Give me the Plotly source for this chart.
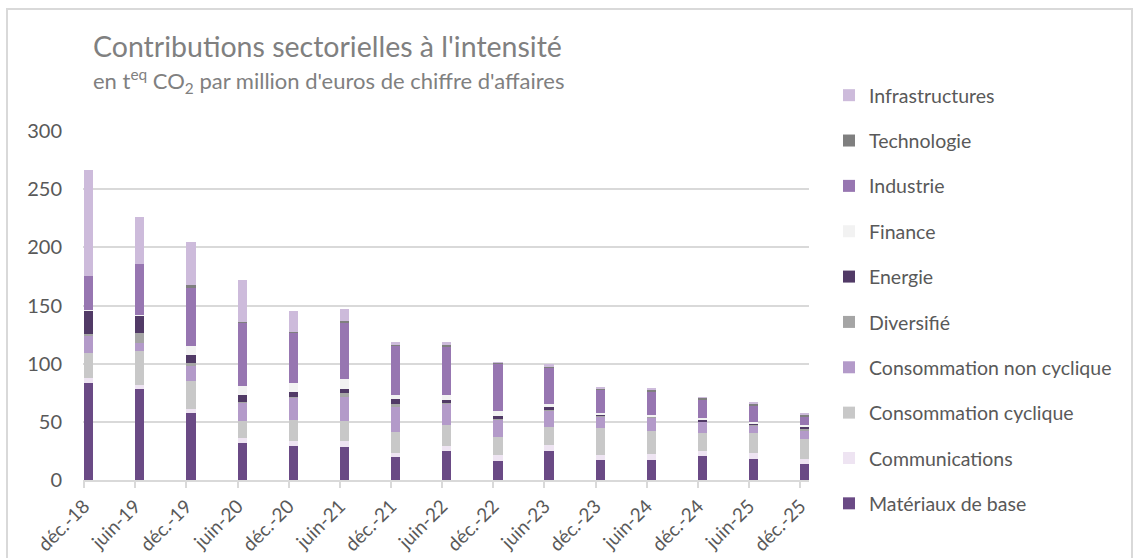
import plotly.graph_objects as go

categories = ["déc.-18", "juin-19", "déc.-19", "juin-20", "déc.-20", "juin-21", "déc.-21",
              "juin-22", "déc.-22", "juin-23", "déc.-23", "juin-24", "déc.-24", "juin-25", "déc.-25"]

materiaux = [83.1, 77.9, 57.9, 31.5, 29.2, 28.1, 19.5, 25.2, 16.0, 24.6, 17.2, 17.2, 20.6, 18.3, 13.8]
communications = [4.6, 4.0, 3.4, 4.6, 4.6, 5.2, 4.0, 4.0, 5.2, 5.7, 4.0, 5.2, 4.0, 5.2, 4.0]
conso_cyclique = [21.8, 28.7, 24.1, 14.3, 17.8, 17.8, 17.8, 17.8, 15.5, 15.5, 23.5, 20.1, 15.5, 16.6, 17.2]
conso_non_cyclique = [14.3, 6.9, 12.6, 16.0, 19.5, 20.1, 21.2, 18.9, 15.5, 13.8, 10.3, 11.5, 10.3, 6.9, 6.9]
diversifie = [1.7, 8.6, 2.9, 0.6, 0.6, 3.4, 2.9, 1.1, 0.2, 0.6, 0.6, 0.2, 0.3, 0.3, 2.3]
energie = [20.6, 14.9, 6.9, 5.7, 4.0, 3.4, 4.6, 1.7, 2.3, 3.4, 1.1, 0.3, 1.1, 1.1, 1.7]
finance = [0.3, 1.1, 7.4, 8.0, 8.0, 8.6, 2.9, 4.0, 4.6, 1.7, 1.1, 1.7, 1.7, 1.7, 1.1]
industrie = [28.7, 43.6, 50.4, 54.4, 43.0, 48.7, 42.4, 42.4, 40.7, 31.5, 20.1, 20.1, 16.0, 14.3, 8.0]
technologie = [0.0, 0.0, 1.7, 1.1, 0.6, 1.1, 0.6, 1.7, 0.6, 1.1, 0.6, 1.7, 1.1, 1.7, 1.1]
infrastructures = [91.1, 40.7, 37.2, 36.1, 17.8, 10.9, 2.9, 1.7, 0.3, 1.7, 0.6, 0.6, 0.6, 1.1, 1.7]

series = [
    ("Matériaux de base", materiaux, "#6A4A85"),
    ("Communications", communications, "#EEE4F2"),
    ("Consommation cyclique", conso_cyclique, "#C8C8C8"),
    ("Consommation non cyclique", conso_non_cyclique, "#B39AC9"),
    ("Diversifié", diversifie, "#A5A5A5"),
    ("Energie", energie, "#513A66"),
    ("Finance", finance, "#F2F2F2"),
    ("Industrie", industrie, "#9776B1"),
    ("Technologie", technologie, "#7F7F7F"),
    ("Infrastructures", infrastructures, "#CDBBDB"),
]

FONT = "Lato, 'Open Sans', sans-serif"
fig = go.Figure()
n = len(series)
for i, (name, vals, color) in enumerate(series):
    fig.add_trace(go.Bar(
        x=categories, y=vals, name=name, legendgroup=name, legendrank=n - i,
        marker=dict(color=color, line=dict(width=0)),
        width=0.18, offset=0,
    ))

W, H = 1133, 558
L, R, T, B = 83, 1133 - 809, 131, 558 - 480
pw, ph = W - L - R, H - T - B

def px(x):
    return (x - L) / pw

def py(y):
    return (H - B - y) / ph

fig.update_layout(
    width=W, height=H,
    margin=dict(l=L, r=R, t=T, b=B, autoexpand=False),
    barmode="stack",
    plot_bgcolor="white", paper_bgcolor="white",
    font=dict(family=FONT, color="#595959", size=19),
    showlegend=True,
    legend=dict(
        x=px(829), y=py(76), xanchor="left", yanchor="top",
        traceorder="grouped", tracegroupgap=17, maxheight=520,
        font=dict(size=19.5, color="#595959"),
        itemwidth=30, bgcolor="rgba(0,0,0,0)",
    ),
    xaxis=dict(
        type="category", range=[-0.02, 14.17], automargin=False,
        showgrid=False, showline=True, linecolor="#D9D9D9", linewidth=1.5,
        ticks="outside", ticklen=6, tickcolor="#D9D9D9", tickwidth=1.5,
        tickangle=-45, tickfont=dict(size=19, color="#595959"),
    ),
    yaxis=dict(
        range=[0, 300], tickvals=[0, 50, 100, 150, 200, 250, 300], automargin=False,
        showgrid=True, gridcolor="#D9D9D9", gridwidth=1.5,
        zeroline=False, showline=False, ticks="",
        ticklabelstandoff=20,
        tickfont=dict(size=20, color="#595959"),
    ),
    annotations=[
        dict(text="Contributions sectorielles à l'intensité", xref="paper", yref="paper",
             x=px(91), y=py(46), xanchor="left", yanchor="middle", showarrow=False,
             font=dict(size=28.5, color="#808080", family=FONT)),
        dict(text="en t<sup>eq</sup> CO<sub>2</sub> par million d'euros de chiffre d'affaires",
             xref="paper", yref="paper",
             x=px(91), y=py(81), xanchor="left", yanchor="middle", showarrow=False,
             font=dict(size=22, color="#808080", family=FONT)),
    ],
    shapes=[
        dict(type="rect", xref="paper", yref="paper",
             x0=px(7), x1=px(1132), y0=py(575), y1=py(9),
             line=dict(color="#D9D9D9", width=2), fillcolor="rgba(0,0,0,0)", layer="below"),
    ],
)

fig.write_html("out.html", config={"displayModeBar": False},
               post_script="document.body.style.margin='0';")
